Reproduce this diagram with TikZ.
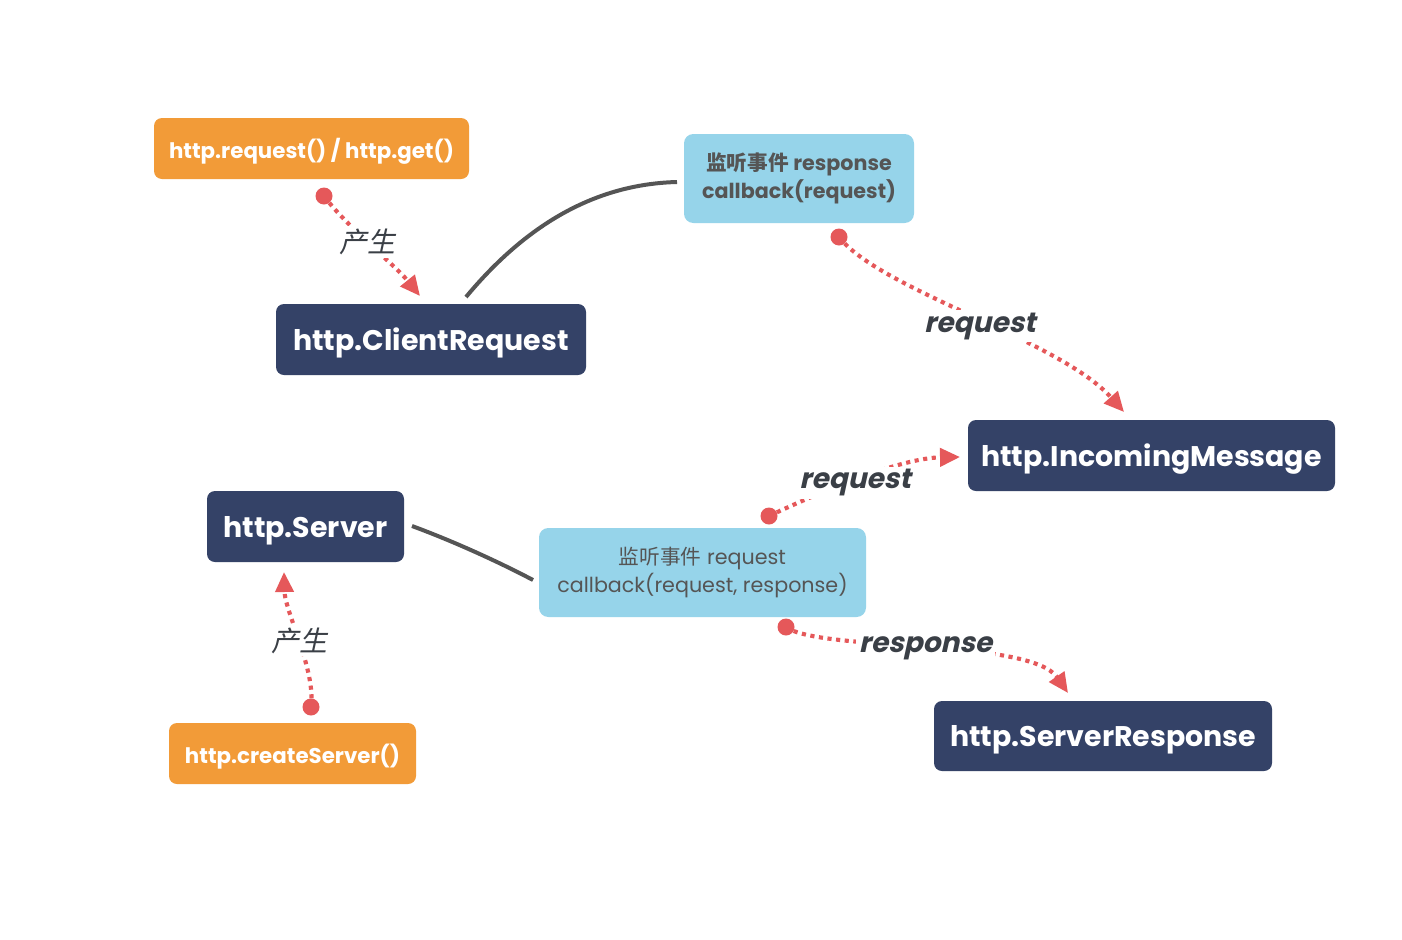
\documentclass[tikz,border=0pt]{standalone}
\usepackage{fontspec}
\setmainfont{Poppins}
\newfontfamily\cjk{Noto Sans CJK SC}
\newfontfamily\lblfont{Poppins}[FakeSlant=0.22]
\newfontfamily\cjksl{Noto Sans CJK SC}[FakeSlant=0.22]
\usetikzlibrary{arrows.meta}
\definecolor{orangebox}{HTML}{F29B38}
\definecolor{navybox}{HTML}{344267}
\definecolor{bluebox}{HTML}{96D4EA}
\definecolor{redline}{HTML}{E5585A}
\definecolor{labelgray}{HTML}{3A3F46}
\definecolor{boxtext}{HTML}{555555}
\definecolor{linkgray}{HTML}{555555}
\tikzset{
  orangenode/.style={fill=orangebox, rounded corners=6pt, text=white, font=\bfseries\fontsize{16}{19}\selectfont, inner sep=0pt, text depth=0pt},
  navynode/.style={fill=navybox, rounded corners=6pt, text=white, font=\bfseries\fontsize{21.3}{24}\selectfont, inner sep=0pt, text depth=0pt},
  bluenode/.style={fill=bluebox, rounded corners=7pt, text=boxtext, align=center, inner sep=0pt},
  redflow/.style={draw=redline, line width=3.1pt, dash pattern=on 3.1pt off 3.4pt, -{Triangle[length=15pt,width=13.5pt]}},
  flowlabel/.style={fill=white, text=labelgray, inner sep=2pt, font=\lblfont\bfseries\fontsize{21}{24}\selectfont},
  cnlabel/.style={fill=white, text=labelgray, inner sep=2pt, font=\cjksl\fontsize{21}{24}\selectfont},
  reddot/.style={fill=redline},
  graylink/.style={draw=linkgray, line width=3pt}
}
\begin{document}
\begin{tikzpicture}[x=0.75pt, y=-0.75pt]
\useasboundingbox (0,0) rectangle (1402,939);
\fill[white] (0,0) rectangle (1402,939);

% boxes
\node[orangenode, minimum width=315*0.75pt, minimum height=61*0.75pt] (req) at (311.5,148.5) {http.request() / http.get()};
\node[orangenode, minimum width=247*0.75pt, minimum height=61*0.75pt] (cs) at (292.5,753.5) {http.createServer()};
\node[navynode, minimum width=310*0.75pt, minimum height=71*0.75pt] (cr) at (431,339.5) {http.ClientRequest};
\node[navynode, minimum width=367*0.75pt, minimum height=71*0.75pt] (im) at (1151.5,455.5) {http.IncomingMessage};
\node[navynode, minimum width=197*0.75pt, minimum height=71*0.75pt] (srv) at (305.5,526.5) {http.Server};
\node[navynode, minimum width=338*0.75pt, minimum height=70*0.75pt] (sr) at (1103,736) {http.ServerResponse};
\node[bluenode, minimum width=230*0.75pt, minimum height=89*0.75pt, font=\bfseries\fontsize{15.5}{21}\selectfont] (cbtop) at (799,178.5) {{\cjk\bfseries 监听事件} response\\callback(request)};
\node[bluenode, minimum width=327*0.75pt, minimum height=89*0.75pt, font=\fontsize{15.5}{21}\selectfont] (cbbot) at (702.5,572.5) {{\cjk 监听事件} request\\callback(request, response)};

% free ends of the flows
\coordinate (d1) at (324,196);
\coordinate (a1) at (420,296);
\coordinate (d2) at (839,237);
\coordinate (a2) at (1124,412);
\coordinate (d3) at (769,516);
\coordinate (a3) at (960,457);
\coordinate (d4) at (311,707);
\coordinate (a4) at (284,572);
\coordinate (d5) at (786,627);
\coordinate (a5) at (1068,693);

% gray links
\coordinate (g1s) at (466,297);
\coordinate (g1e) at (677,182);
\draw[graylink] (g1s) .. controls (530,220) and (600,184) .. (g1e);
\coordinate (g2s) at (412,526);
\coordinate (g2e) at (533,580);
\draw[graylink] (g2s) .. controls (450,540) and (495,560) .. (g2e);

% red flows
\draw[redflow] (d1) .. controls (345,225) and (395,265) .. node[cnlabel, pos=0.47] {产生} (a1);
\draw[redflow] (d2) .. controls (880,290) and (1060,340) .. node[flowlabel, pos=0.52, yshift=-4pt] {request} (a2);
\draw[redflow] (d3) .. controls (820,492) and (900,458) .. node[flowlabel, pos=0.47, yshift=-2pt] {request} (a3);
\draw[redflow] (d4) .. controls (316,670) and (285,612) .. node[cnlabel, pos=0.5] {产生} (a4);
\draw[redflow] (d5) .. controls (820,652) and (1030,638) .. node[flowlabel, pos=0.5] {response} (a5);

\foreach \d in {d1,d2,d3,d4,d5} \fill[reddot] (\d) circle (8.5);
\end{tikzpicture}
\end{document}
